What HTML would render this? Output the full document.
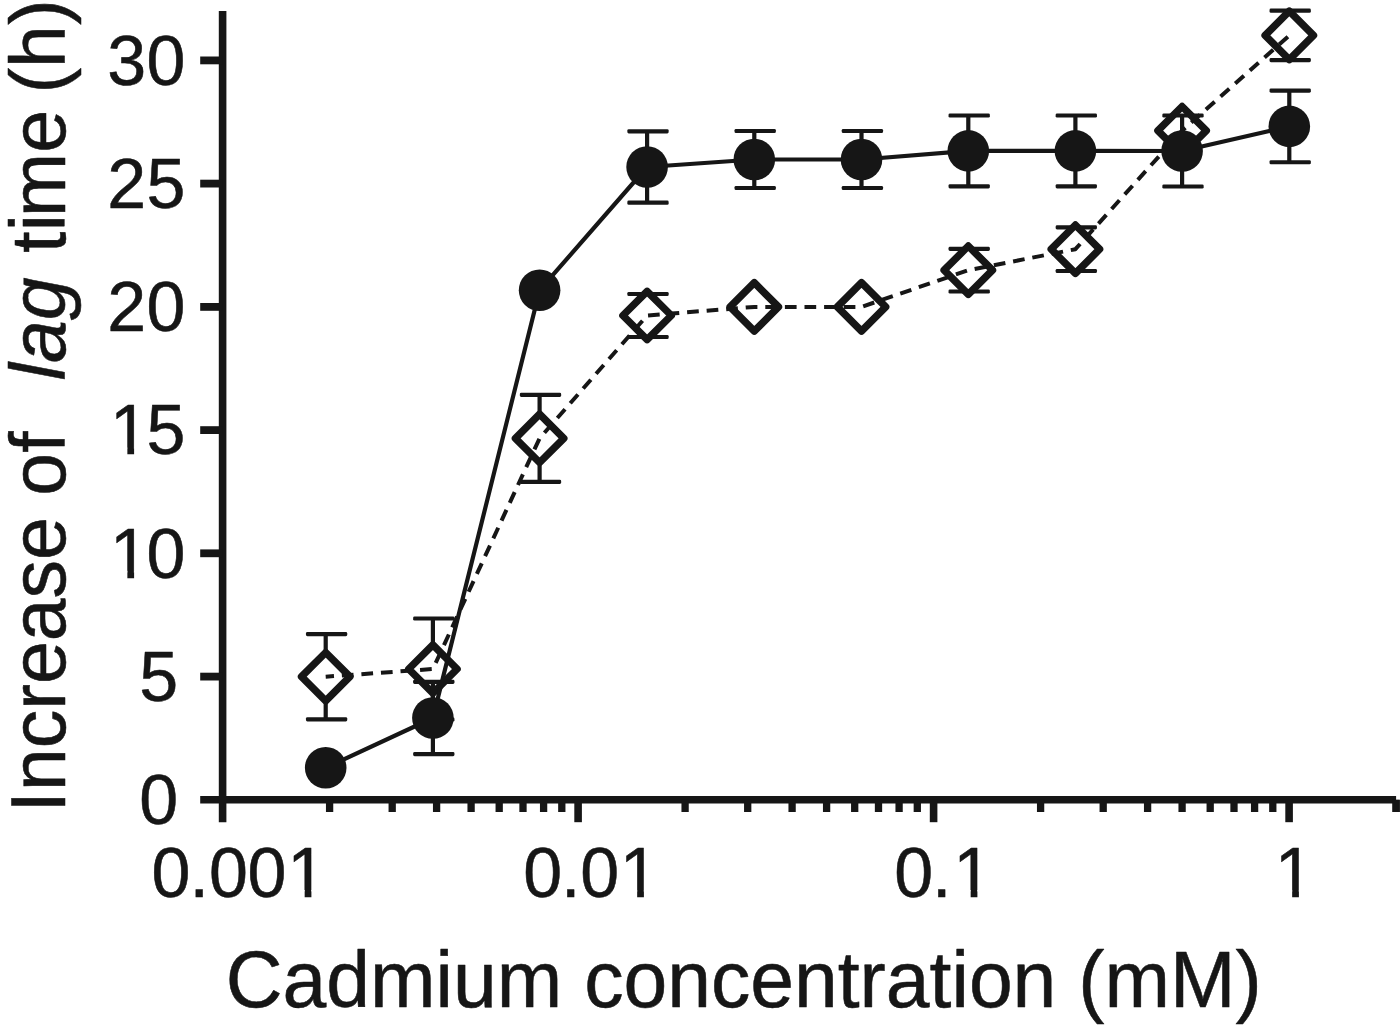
<!DOCTYPE html>
<html lang="en"><head><meta charset="utf-8"><title>Increase of lag time vs cadmium concentration</title>
<style>html,body{margin:0;padding:0;background:#fff;}body{width:1400px;height:1025px;overflow:hidden;}svg{display:block;}text{font-family:"Liberation Sans",Arial,Helvetica,sans-serif;fill:#161616;stroke:#161616;stroke-width:0.55px;stroke-linejoin:round;}</style>
</head><body>
<svg width="1400" height="1025" viewBox="0 0 1400 1025">
<rect width="1400" height="1025" fill="#fff"/>
<g stroke="#161616" fill="none" stroke-linecap="butt">
<line x1="222.6" y1="11" x2="222.6" y2="822.2" stroke-width="7.6"/>
<line x1="200.2" y1="799.8" x2="1396.1" y2="799.8" stroke-width="7.6"/>
<line x1="200.2" y1="676.6" x2="222.6" y2="676.6" stroke-width="7.8"/>
<line x1="200.2" y1="553.3" x2="222.6" y2="553.3" stroke-width="7.8"/>
<line x1="200.2" y1="430.1" x2="222.6" y2="430.1" stroke-width="7.8"/>
<line x1="200.2" y1="306.9" x2="222.6" y2="306.9" stroke-width="7.8"/>
<line x1="200.2" y1="183.6" x2="222.6" y2="183.6" stroke-width="7.8"/>
<line x1="200.2" y1="60.4" x2="222.6" y2="60.4" stroke-width="7.8"/>
<line x1="329.6" y1="799.8" x2="329.6" y2="812" stroke-width="7.3"/>
<line x1="392.2" y1="799.8" x2="392.2" y2="812" stroke-width="7.3"/>
<line x1="436.6" y1="799.8" x2="436.6" y2="812" stroke-width="7.3"/>
<line x1="471.1" y1="799.8" x2="471.1" y2="812" stroke-width="7.3"/>
<line x1="499.2" y1="799.8" x2="499.2" y2="812" stroke-width="7.3"/>
<line x1="523.0" y1="799.8" x2="523.0" y2="812" stroke-width="7.3"/>
<line x1="543.6" y1="799.8" x2="543.6" y2="812" stroke-width="7.3"/>
<line x1="561.8" y1="799.8" x2="561.8" y2="812" stroke-width="7.3"/>
<line x1="578.1" y1="799.8" x2="578.1" y2="822.2" stroke-width="7.6"/>
<line x1="685.1" y1="799.8" x2="685.1" y2="812" stroke-width="7.3"/>
<line x1="747.7" y1="799.8" x2="747.7" y2="812" stroke-width="7.3"/>
<line x1="792.1" y1="799.8" x2="792.1" y2="812" stroke-width="7.3"/>
<line x1="826.6" y1="799.8" x2="826.6" y2="812" stroke-width="7.3"/>
<line x1="854.7" y1="799.8" x2="854.7" y2="812" stroke-width="7.3"/>
<line x1="878.5" y1="799.8" x2="878.5" y2="812" stroke-width="7.3"/>
<line x1="899.1" y1="799.8" x2="899.1" y2="812" stroke-width="7.3"/>
<line x1="917.3" y1="799.8" x2="917.3" y2="812" stroke-width="7.3"/>
<line x1="933.6" y1="799.8" x2="933.6" y2="822.2" stroke-width="7.6"/>
<line x1="1040.6" y1="799.8" x2="1040.6" y2="812" stroke-width="7.3"/>
<line x1="1103.2" y1="799.8" x2="1103.2" y2="812" stroke-width="7.3"/>
<line x1="1147.6" y1="799.8" x2="1147.6" y2="812" stroke-width="7.3"/>
<line x1="1182.1" y1="799.8" x2="1182.1" y2="812" stroke-width="7.3"/>
<line x1="1210.2" y1="799.8" x2="1210.2" y2="812" stroke-width="7.3"/>
<line x1="1234.0" y1="799.8" x2="1234.0" y2="812" stroke-width="7.3"/>
<line x1="1254.6" y1="799.8" x2="1254.6" y2="812" stroke-width="7.3"/>
<line x1="1272.8" y1="799.8" x2="1272.8" y2="812" stroke-width="7.3"/>
<line x1="1289.1" y1="799.8" x2="1289.1" y2="822.2" stroke-width="7.6"/>
<line x1="1396.1" y1="799.8" x2="1396.1" y2="812" stroke-width="7.3"/>
<line x1="1396.1" y1="799.8" x2="1396.1" y2="812" stroke-width="7.3"/>
</g>
<g fill="#161616" stroke="none">
<rect x="323.60" y="634.10" width="4.20" height="85.20"/>
<rect x="305.95" y="632.00" width="41.30" height="4.20" rx="1.4"/>
<rect x="305.95" y="717.20" width="41.30" height="4.20" rx="1.4"/>
<rect x="430.80" y="618.50" width="4.20" height="101.00"/>
<rect x="413.15" y="616.40" width="41.30" height="4.20" rx="1.4"/>
<rect x="413.15" y="717.40" width="41.30" height="4.20" rx="1.4"/>
<rect x="537.50" y="394.80" width="4.20" height="87.00"/>
<rect x="519.85" y="392.70" width="41.30" height="4.20" rx="1.4"/>
<rect x="519.85" y="479.70" width="41.30" height="4.20" rx="1.4"/>
<rect x="645.00" y="294.00" width="4.20" height="43.00"/>
<rect x="627.35" y="291.90" width="41.30" height="4.20" rx="1.4"/>
<rect x="627.35" y="334.90" width="41.30" height="4.20" rx="1.4"/>
<rect x="966.20" y="248.90" width="4.20" height="42.60"/>
<rect x="948.55" y="246.80" width="41.30" height="4.20" rx="1.4"/>
<rect x="948.55" y="289.40" width="41.30" height="4.20" rx="1.4"/>
<rect x="1073.30" y="227.40" width="4.20" height="43.60"/>
<rect x="1055.65" y="225.30" width="41.30" height="4.20" rx="1.4"/>
<rect x="1055.65" y="268.90" width="41.30" height="4.20" rx="1.4"/>
<rect x="1287.20" y="10.70" width="4.20" height="49.40"/>
<rect x="1269.55" y="8.60" width="41.30" height="4.20" rx="1.4"/>
<rect x="1269.55" y="58.00" width="41.30" height="4.20" rx="1.4"/>
</g>
<g stroke="#161616" stroke-width="7.4" fill="#fff" stroke-linejoin="round">
<path d="M325.7 652.5L349.9 676.7L325.7 700.9L301.5 676.7Z"/>
<path d="M432.9 644.8L457.1 669.0L432.9 693.2L408.7 669.0Z"/>
<path d="M539.6 414.1L563.8 438.3L539.6 462.5L515.4 438.3Z"/>
<path d="M647.1 291.3L671.3 315.5L647.1 339.7L622.9 315.5Z"/>
<path d="M754.3 282.7L778.5 306.9L754.3 331.1L730.1 306.9Z"/>
<path d="M861.5 282.7L885.7 306.9L861.5 331.1L837.3 306.9Z"/>
<path d="M968.3 246.0L992.5 270.2L968.3 294.4L944.1 270.2Z"/>
<path d="M1075.4 225.0L1099.6 249.2L1075.4 273.4L1051.2 249.2Z"/>
<path d="M1182.1 106.5L1206.3 130.7L1182.1 154.9L1157.9 130.7Z"/>
<path d="M1289.3 11.2L1313.5 35.4L1289.3 59.6L1265.1 35.4Z"/>
</g>
<polyline points="325.7,676.7 432.9,669.0 539.6,438.3 647.1,315.5 754.3,306.9 861.5,306.9 968.3,270.2 1075.4,249.2 1182.1,130.7 1289.3,35.4" fill="none" stroke="#161616" stroke-width="4.0" stroke-dasharray="11.7 7.9" stroke-dashoffset="3.4" stroke-linejoin="round"/>
<g fill="#161616" stroke="none">
<rect x="430.80" y="681.90" width="4.20" height="72.20"/>
<rect x="413.15" y="679.80" width="41.30" height="4.20" rx="1.4"/>
<rect x="413.15" y="752.00" width="41.30" height="4.20" rx="1.4"/>
<rect x="645.00" y="131.30" width="4.20" height="71.40"/>
<rect x="627.35" y="129.20" width="41.30" height="4.20" rx="1.4"/>
<rect x="627.35" y="200.60" width="41.30" height="4.20" rx="1.4"/>
<rect x="752.20" y="131.00" width="4.20" height="57.00"/>
<rect x="734.55" y="128.90" width="41.30" height="4.20" rx="1.4"/>
<rect x="734.55" y="185.90" width="41.30" height="4.20" rx="1.4"/>
<rect x="859.40" y="131.00" width="4.20" height="57.00"/>
<rect x="841.75" y="128.90" width="41.30" height="4.20" rx="1.4"/>
<rect x="841.75" y="185.90" width="41.30" height="4.20" rx="1.4"/>
<rect x="966.20" y="115.50" width="4.20" height="70.80"/>
<rect x="948.55" y="113.40" width="41.30" height="4.20" rx="1.4"/>
<rect x="948.55" y="184.20" width="41.30" height="4.20" rx="1.4"/>
<rect x="1073.30" y="115.50" width="4.20" height="70.80"/>
<rect x="1055.65" y="113.40" width="41.30" height="4.20" rx="1.4"/>
<rect x="1055.65" y="184.20" width="41.30" height="4.20" rx="1.4"/>
<rect x="1180.00" y="115.50" width="4.20" height="71.00"/>
<rect x="1162.35" y="113.40" width="41.30" height="4.20" rx="1.4"/>
<rect x="1162.35" y="184.40" width="41.30" height="4.20" rx="1.4"/>
<rect x="1287.20" y="90.55" width="4.20" height="71.70"/>
<rect x="1269.55" y="88.45" width="41.30" height="4.20" rx="1.4"/>
<rect x="1269.55" y="160.15" width="41.30" height="4.20" rx="1.4"/>
</g>
<polyline points="325.7,767.8 432.9,718.0 539.6,290.2 647.1,167.0 754.3,159.5 861.5,159.5 968.3,150.9 1075.4,150.9 1182.1,151.0 1289.3,126.4" fill="none" stroke="#161616" stroke-width="4.2" stroke-linejoin="round"/>
<g fill="#161616">
<circle cx="325.7" cy="767.8" r="20.8"/>
<circle cx="432.9" cy="718.0" r="20.8"/>
<circle cx="539.6" cy="290.2" r="20.8"/>
<circle cx="647.1" cy="167.0" r="20.8"/>
<circle cx="754.3" cy="159.5" r="20.8"/>
<circle cx="861.5" cy="159.5" r="20.8"/>
<circle cx="968.3" cy="150.9" r="20.8"/>
<circle cx="1075.4" cy="150.9" r="20.8"/>
<circle cx="1182.1" cy="151.0" r="20.8"/>
<circle cx="1289.3" cy="126.4" r="20.8"/>
</g>
<text transform="translate(139.27 824.20) scale(0.9873 1)" x="0.00" y="0" font-size="70.9">0</text>
<text transform="translate(139.27 700.96) scale(0.9873 1)" x="0.00" y="0" font-size="70.9">5</text>
<text transform="translate(110.03 577.73) scale(0.9873 1)" x="0.00 37.01" y="0" font-size="70.9">10</text>
<text transform="translate(110.03 454.49) scale(0.9873 1)" x="0.00 37.01" y="0" font-size="70.9">15</text>
<text transform="translate(107.37 331.26) scale(0.9873 1)" x="0.00 39.70" y="0" font-size="70.9">20</text>
<text transform="translate(107.37 208.03) scale(0.9873 1)" x="0.00 39.70" y="0" font-size="70.9">25</text>
<text transform="translate(107.37 84.79) scale(0.9873 1)" x="0.00 39.70" y="0" font-size="70.9">30</text>
<text transform="translate(151.57 896.90) scale(0.9873 1)" x="0.00 38.53 58.14 97.23 137.51" y="0" font-size="70.9">0.001</text>
<text transform="translate(523.37 896.90) scale(0.9873 1)" x="0.00 38.02 57.73 97.70" y="0" font-size="70.9">0.01</text>
<text transform="translate(894.17 896.90) scale(0.9873 1)" x="0.00 38.22 59.92" y="0" font-size="70.9">0.1</text>
<text transform="translate(1274.83 896.90) scale(0.9873 1)" x="0.00" y="0" font-size="70.9">1</text>
<g fill="#fff"><rect x="113.53" y="570.83" width="13.83" height="8.80"/><rect x="134.10" y="570.83" width="13.31" height="8.80"/><rect x="113.53" y="447.60" width="13.83" height="8.80"/><rect x="134.10" y="447.60" width="13.31" height="8.80"/><rect x="290.83" y="890.00" width="13.83" height="8.80"/><rect x="311.40" y="890.00" width="13.31" height="8.80"/><rect x="623.33" y="890.00" width="13.83" height="8.80"/><rect x="643.90" y="890.00" width="13.31" height="8.80"/><rect x="956.83" y="890.00" width="13.83" height="8.80"/><rect x="977.40" y="890.00" width="13.31" height="8.80"/><rect x="1278.33" y="890.00" width="13.83" height="8.80"/><rect x="1298.90" y="890.00" width="13.31" height="8.80"/></g>
<text transform="translate(225.8 1007.3) scale(0.9919 1)" font-size="79.3" xml:space="preserve">Cadmium concentration (mM)</text>
<text transform="translate(65.2 812.4) rotate(-90) scale(0.9923 1)" font-size="77.6" xml:space="preserve">Increase of  <tspan font-style="italic" dx="8.6">lag</tspan><tspan dx="0.5 2.5 0.5 -3 0"> time</tspan><tspan dx="-5.0"> (h)</tspan></text>
</svg></body></html>
